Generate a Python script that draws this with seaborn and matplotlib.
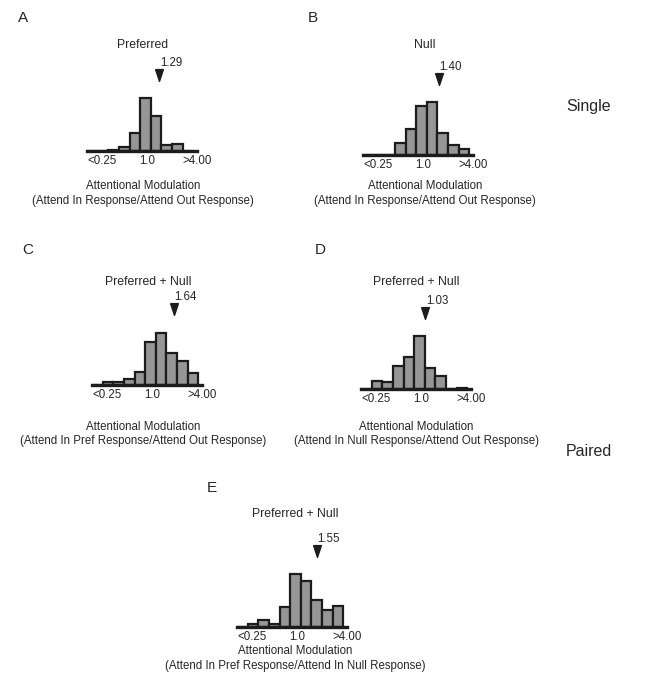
import numpy as np
import pandas as pd
import seaborn as sns
from matplotlib import pyplot as plt

# histogram counts per bin (10 log-spaced bins, first "<0.25", last ">4.00")
bins = list(range(10))
counts_a = [0, 0, 1.5, 4, 18, 53, 35, 6, 7, 0]
counts_b = [0, 0, 0, 12, 26, 49, 53, 22, 10, 6]
counts_c = [0, 3, 3, 6, 13, 43, 52, 32, 24, 12]
counts_d = [0, 8, 7, 23, 32, 53, 21, 13, 0.5, 1.5]
counts_e = [0, 3, 7, 3, 20, 53, 46, 27, 17, 21]

means = [1.29, 1.40, 1.64, 1.03, 1.55]
titles = ["Preferred", "Null", "Preferred + Null", "Preferred + Null", "Preferred + Null"]
letters = ["A", "B", "C", "D", "E"]
xlabels2 = [
    "(Attend In Response/Attend Out Response)",
    "(Attend In Response/Attend Out Response)",
    "(Attend In Pref Response/Attend Out Response)",
    "(Attend In Null Response/Attend Out Response)",
    "(Attend In Pref Response/Attend In Null Response)",
]
tick_labels = ["<0.25", "1.0", ">4.00"]
tick_pos = [0.9, 5.15, 9.85]

W, H = 658, 678
BIN_PX = 11
AX_H = 60

# panel placement in pixels (left edge, baseline, title, xlabel lines, letter)
layout = [
    dict(left=87, base=151, tx=143, ty=45, lx=143, ly=(186, 201), letter=(23, 18)),
    dict(left=363, base=155, tx=425, ty=45, lx=425, ly=(186, 201), letter=(313, 18)),
    dict(left=92, base=385, tx=148, ty=282, lx=143, ly=(427, 441), letter=(28, 250)),
    dict(left=361, base=389, tx=416, ty=282, lx=416, ly=(427, 441), letter=(320, 250)),
    dict(left=237, base=627, tx=295, ty=514, lx=295, ly=(651, 666), letter=(212, 488)),
]
all_counts = [counts_a, counts_b, counts_c, counts_d, counts_e]

BAR_FILL = "#969696"
EDGE = "#1c1c1c"
FS = 8.3


def to_bin(v):
    # position of a ratio on the binned log axis
    return 5.4 + 2.5 * np.log2(v)


def fx(x):
    return x / W


def fy(y):
    return 1 - y / H


sns.set_style("white")
plt.rcParams["font.family"] = ["Liberation Sans", "DejaVu Sans"]

fig = plt.figure(figsize=(W / 100, H / 100), dpi=100)

tri = [(-0.33, 0.5), (0.33, 0.5), (0, -0.5), (-0.33, 0.5)]

for i, (lay, counts) in enumerate(zip(layout, all_counts)):
    ax = fig.add_axes([fx(lay["left"]), fy(lay["base"]), 10 * BIN_PX / W, AX_H / H])
    df = pd.DataFrame({"bin": bins, "count": counts})
    sns.barplot(df, x="bin", y="count", ax=ax, color=BAR_FILL, edgecolor=EDGE,
                linewidth=1.6, width=1.0, saturation=1)
    ax.set_xlim(-0.5, 9.5)
    ax.set_ylim(0, AX_H)
    for s in ["top", "right", "left"]:
        ax.spines[s].set_visible(False)
    ax.spines["bottom"].set_linewidth(2.4)
    ax.spines["bottom"].set_color(EDGE)
    ax.set_yticks([])
    ax.set_xticks(tick_pos)
    ax.set_xticklabels(tick_labels, fontsize=FS)
    ax.tick_params(axis="x", length=0, pad=3)
    ax.set_xlabel(None)
    ax.set_ylabel(None)
    ax.patch.set_alpha(0)

    m = means[i]
    xp = to_bin(m)
    ax.plot([xp], [76], marker=tri, ms=8.5, color=EDGE, clip_on=False, linestyle="none")
    ax.annotate(f"{m:.2f}", xy=(xp, 76), xytext=(1, 12), textcoords="offset pixels",
                ha="left", va="center", fontsize=FS, annotation_clip=False)

    fig.text(fx(lay["tx"]), fy(lay["ty"]), titles[i], ha="center", va="center", fontsize=8.8)
    fig.text(fx(lay["lx"]), fy(lay["ly"][0]), "Attentional Modulation", ha="center",
             va="center", fontsize=FS)
    fig.text(fx(lay["lx"]), fy(lay["ly"][1]), xlabels2[i], ha="center", va="center",
             fontsize=FS)
    lx, ly = lay["letter"]
    fig.text(fx(lx), fy(ly), letters[i], ha="center", va="center", fontsize=11)

fig.text(fx(589), fy(106), "Single", ha="center", va="center", fontsize=11.5)
fig.text(fx(589), fy(451), "Paired", ha="center", va="center", fontsize=11.5)

fig.savefig("out.png", dpi=100)
